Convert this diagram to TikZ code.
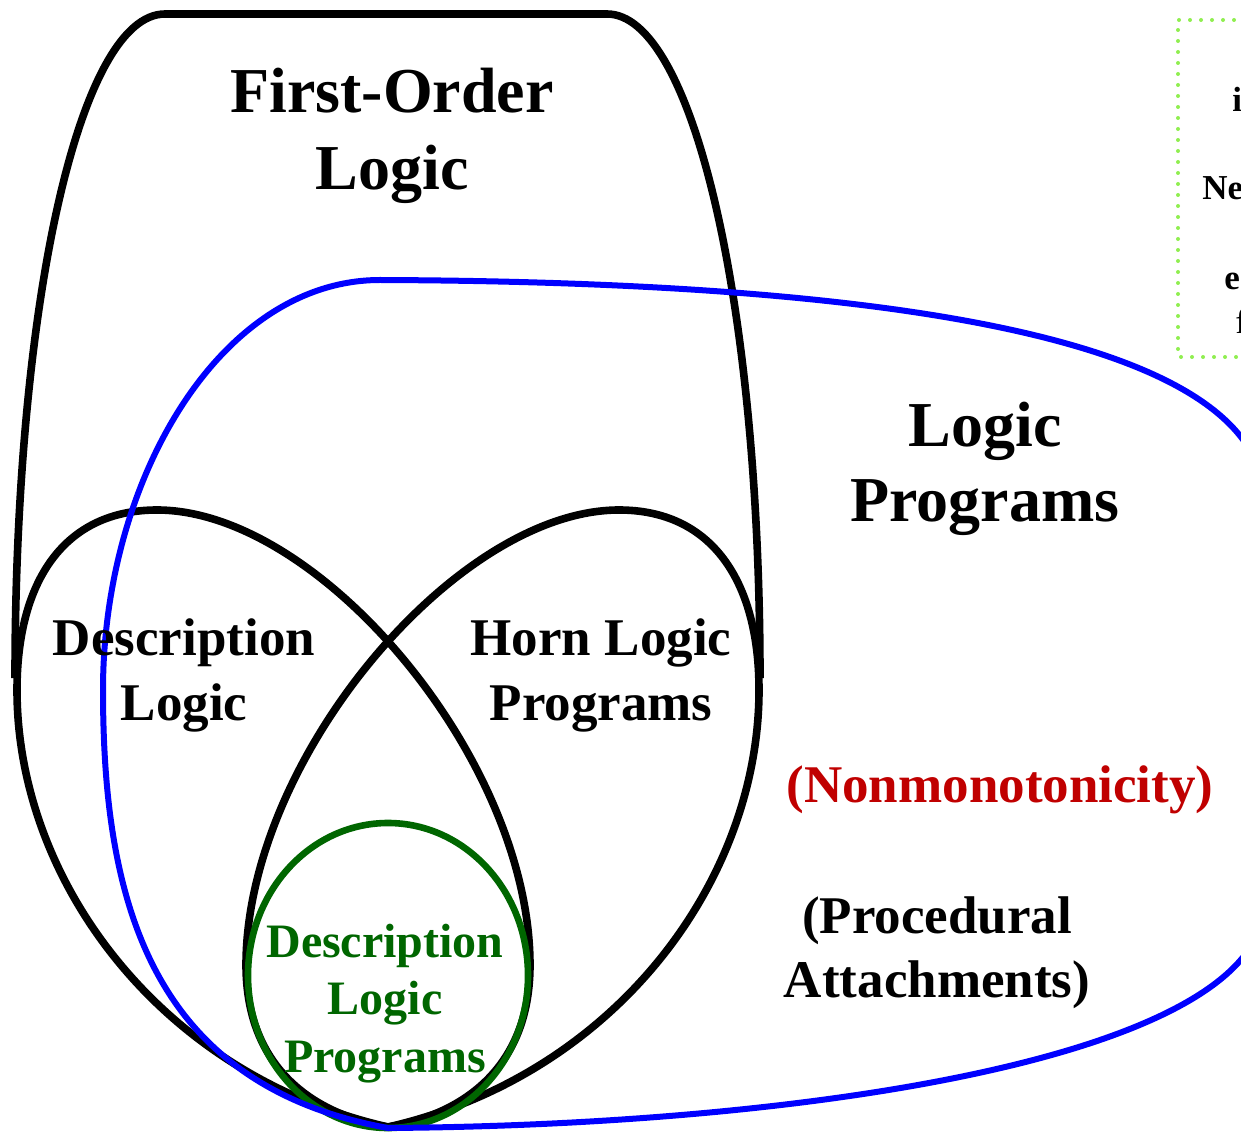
\documentclass[tikz,border=0pt]{standalone}
\usepackage{fontspec}
\setmainfont{Liberation Serif}
\definecolor{lpblue}{RGB}{0,0,255}
\definecolor{dlpgreen}{HTML}{006600}
\definecolor{nmred}{HTML}{C00000}
\definecolor{boxgreen}{HTML}{90EE50}
\begin{document}
\begin{tikzpicture}[x=0.5pt,y=-0.5pt,
  outline/.style={line width=3.8pt, black},
  lpline/.style={line width=3pt, lpblue},
  dlpline/.style={line width=3.3pt, dlpgreen},
  dotbox/.style={line width=2pt, boxgreen, line cap=round, dash pattern=on 0pt off 5.5pt},
  big/.style={font=\bfseries\fontsize{32}{38}\selectfont, inner sep=0pt, anchor=base},
  mid/.style={font=\bfseries\fontsize{26.5}{31}\selectfont, inner sep=0pt, anchor=base},
  small/.style={font=\bfseries\fontsize{24}{28}\selectfont, inner sep=0pt, anchor=base},
  boxtxt/.style={font=\bfseries\fontsize{17.5}{21}\selectfont, inner sep=0pt, anchor=base west}]
\useasboundingbox (0,0) rectangle (1241,1133);
\clip (0,0) rectangle (1241,1133);

% dotted box (cut off at right)
\draw[dotbox] (1300,20) -- (1178,20) -- (1178,357) -- (1300,357);
\node[boxtxt] (b1) at (1232,112) {i};
\node[boxtxt] (b2) at (1202,200) {Ne};
\node[boxtxt] (b3) at (1224,290) {e};
\node[boxtxt, font=\fontsize{17.5}{21}\selectfont] (b4) at (1235,334) {f};

% First-Order Logic
\draw[outline] (15,678) .. controls (15,300) and (80,14) .. (165,14) -- (607,14)
  .. controls (692,14) and (760,300) .. (760,678);

% Description Logic
\draw[outline] (388,1127) .. controls (160,1075) and (17,880) .. (17,690)
  .. controls (17,580) and (65,510) .. (157,510)
  .. controls (320,510) and (530,760) .. (530,965)
  .. controls (530,1070) and (460,1115) .. (388,1127) -- cycle;

% Horn Logic Programs
\draw[outline] (388,1127) .. controls (616,1075) and (759,880) .. (759,690)
  .. controls (759,580) and (711,510) .. (619,510)
  .. controls (456,510) and (246,760) .. (246,965)
  .. controls (246,1070) and (316,1115) .. (388,1127) -- cycle;

% Description Logic Programs
\draw[dlpline] (388,975.5) ellipse [x radius=140, y radius=152.5];

% Logic Programs
\draw[lpline] (388,1128) .. controls (150,1085) and (103,900) .. (103,690)
  .. controls (103,480) and (220,280) .. (380,280)
  .. controls (900,282) and (1230,340) .. (1262,480) -- (1262,920)
  .. controls (1230,1060) and (800,1125) .. (388,1128) -- cycle;

% labels
\node[big] (fol1) at (392,113) {First-Order};
\node[big] (fol2) at (392,190) {Logic};
\node[big] (lp1) at (985,447) {Logic};
\node[big] (lp2) at (985,522) {Programs};
\node[mid] (dl1) at (184,655) {Description};
\node[mid] (dl2) at (184,720) {Logic};
\node[mid] (hl1) at (601,655) {Horn Logic};
\node[mid] (hl2) at (601,720) {Programs};
\node[mid, nmred] (nm) at (1000,802) {(Nonmonotonicity)};
\node[mid] (pa1) at (937,933) {(Procedural};
\node[mid] (pa2) at (937,997) {Attachments)};
\node[small, dlpgreen] (dlp1) at (385,957) {Description};
\node[small, dlpgreen] (dlp2) at (385,1014) {Logic};
\node[small, dlpgreen] (dlp3) at (385,1072) {Programs};
\end{tikzpicture}
\end{document}
